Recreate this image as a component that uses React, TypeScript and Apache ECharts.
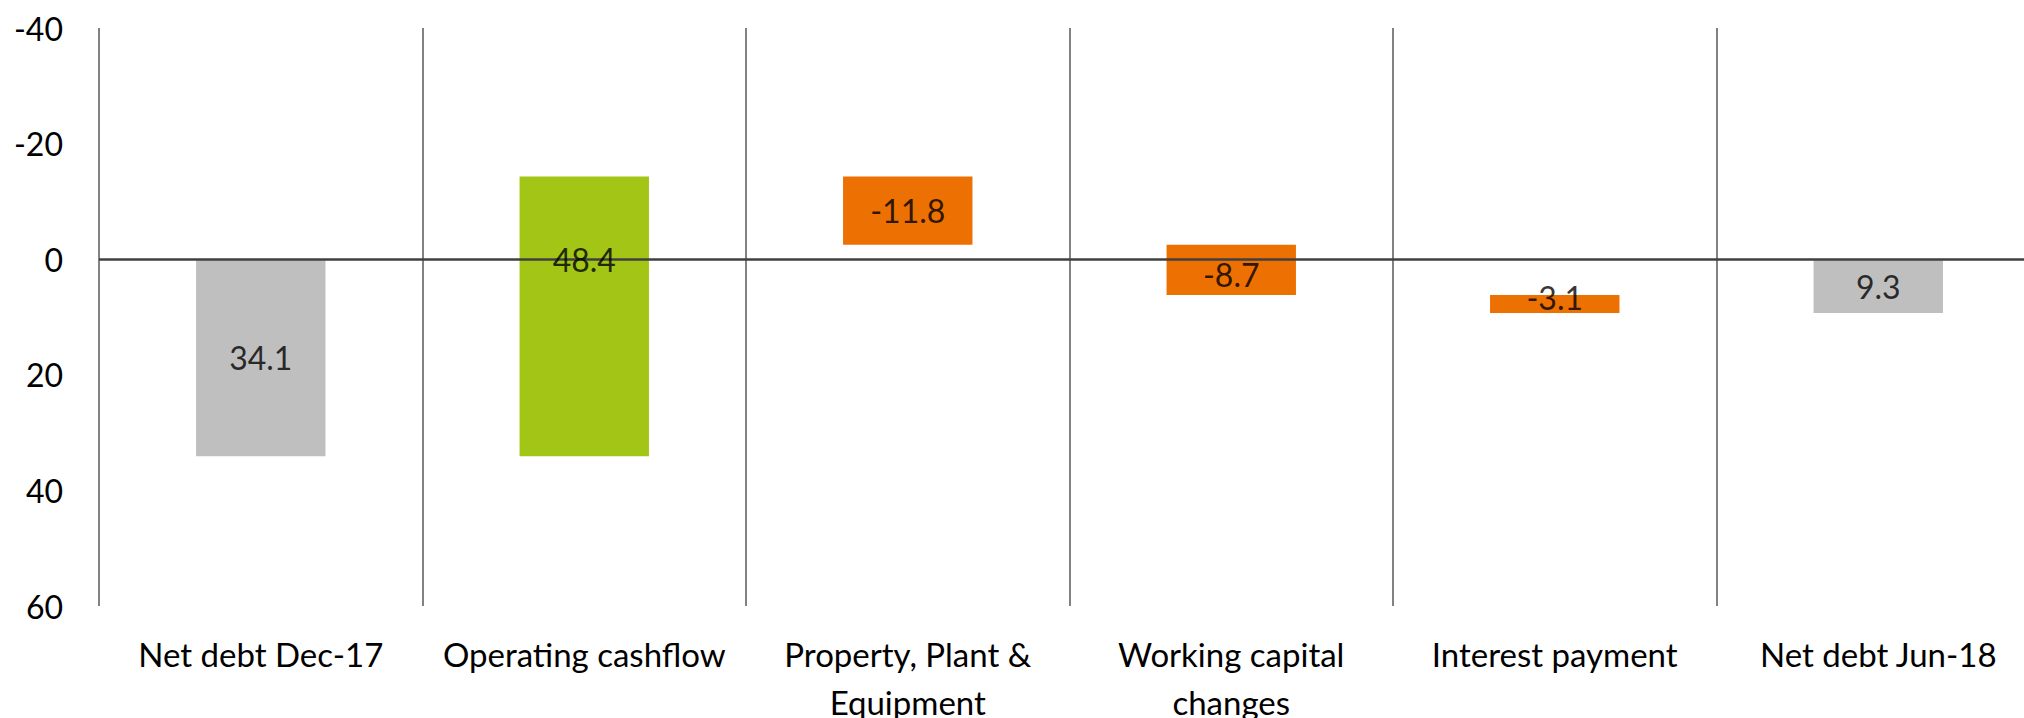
import React, { useEffect, useRef } from "react";
import * as echarts from "echarts";

const categories = [
  "Net debt Dec-17",
  "Operating cashflow",
  "Property, Plant &\nEquipment",
  "Working capital\nchanges",
  "Interest payment",
  "Net debt Jun-18",
];
// displayed values
const values = [34.1, 48.4, -11.8, -8.7, -3.1, 9.3];
// "total" bars start at 0, "flow" bars move net debt by -value
const kinds = ["total", "flow", "flow", "flow", "flow", "total"];
const colors = ["#BFBFBF", "#A2C516", "#ED7003", "#ED7003", "#ED7003", "#BFBFBF"];
// where each data label sits (y value)
const labelAt = [17.0, 0.0, -8.4, 2.6, 6.6, 4.7];
const yTicks = { min: -40, max: 60, interval: 20 };

export default function App() {
  const ref = useRef<HTMLDivElement>(null);
  useEffect(() => {
    if (!ref.current) return;
    const chart = echarts.init(ref.current, undefined, { renderer: "svg" });
    let running = 0;
    const ranges = values.map((v, i) => {
      let s: number, e: number;
      if (kinds[i] === "total") {
        s = 0;
        e = v;
        running = v;
      } else {
        s = running;
        e = running - v;
        running = e;
      }
      return [i, s, e];
    });
    const font = "Lato, 'Open Sans', sans-serif";
    chart.setOption({
      animation: false,
      grid: {
        left: 99,
        top: 28,
        width: 1941,
        height: 578,
        containLabel: false,
        outerBoundsMode: "none",
      },
      xAxis: {
        type: "category",
        data: categories,
        boundaryGap: true,
        axisLine: { show: false },
        axisTick: { show: false },
        splitLine: { show: true, lineStyle: { color: "#595959", width: 1.5 } },
        axisLabel: {
          color: "#000",
          fontSize: 33,
          fontFamily: font,
          lineHeight: 48,
          margin: 24,
          interval: 0,
        },
      },
      yAxis: {
        type: "value",
        inverse: true,
        min: yTicks.min,
        max: yTicks.max,
        interval: yTicks.interval,
        axisLine: { show: false },
        axisTick: { show: false },
        splitLine: { show: false },
        axisLabel: { color: "#000", fontSize: 32, fontFamily: font, margin: 36 },
      },
      series: [
        {
          type: "custom",
          data: ranges,
          encode: { x: 0, y: [1, 2] },
          renderItem: (params: any, api: any) => {
            const i = api.value(0);
            const p1 = api.coord([i, api.value(1)]);
            const p2 = api.coord([i, api.value(2)]);
            const w = api.size([1, 0])[0] * 0.4;
            const y = Math.min(p1[1], p2[1]);
            const h = Math.abs(p1[1] - p2[1]);
            return {
              type: "rect",
              shape: { x: p1[0] - w / 2, y, width: w, height: h },
              style: { fill: colors[params.dataIndex] },
            };
          },
          markLine: {
            silent: true,
            symbol: "none",
            label: { show: false },
            lineStyle: { color: "#404040", width: 2.5, type: "solid" },
            data: [{ yAxis: 0 }],
            z: 5,
          },
          z: 2,
        },
        {
          type: "scatter",
          symbolSize: 0,
          data: labelAt.map((y, i) => [i, y]),
          z: 10,
          label: {
            show: true,
            position: "inside",
            color: "#000",
            fontSize: 32,
            fontFamily: font,
            formatter: (p: any) => String(values[p.dataIndex].toFixed(1)),
          },
        },
      ],
    });
    return () => chart.dispose();
  }, []);
  return (
    <div
      ref={ref}
      style={{ position: "fixed", left: 0, top: 0, width: 2024, height: 718, background: "#fff" }}
    />
  );
}
